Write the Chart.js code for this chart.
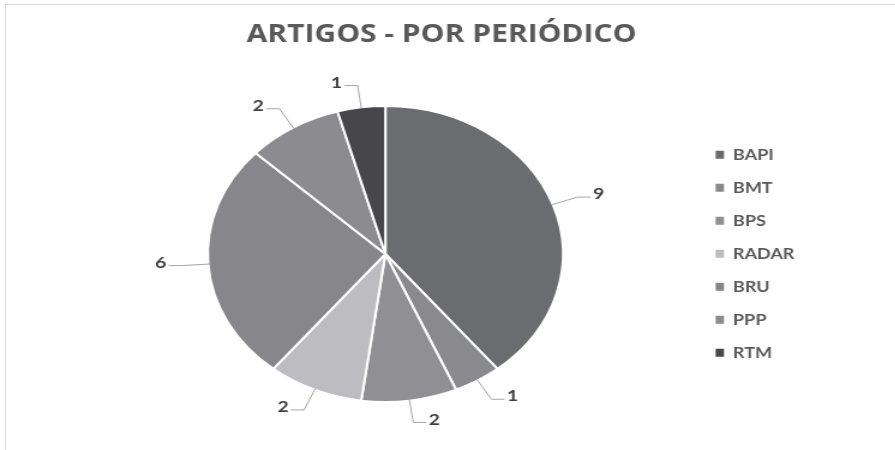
<!DOCTYPE html>
<html>
<head>
<meta charset="utf-8">
<script src="https://cdn.jsdelivr.net/npm/chart.js@4.4.1/dist/chart.umd.min.js"></script>
<style>
  html, body { margin: 0; padding: 0; background: #fff; }
  body { width: 895px; height: 450px; overflow: hidden; position: relative; }
  .frame { position: absolute; left: 5px; top: 4px; right: -2px; bottom: -2px;
           border-top: 1px solid #d9d9d9; border-left: 1px solid #d9d9d9; }
  /* the chart is drawn narrow and stretched sideways, so the pie comes out oval */
  .stretch { position: absolute; left: 0; top: 0; width: 746px; height: 450px;
             transform: scaleX(1.2); transform-origin: 0 0; }
</style>
</head>
<body>
<div class="frame"></div>
<div class="stretch"><canvas id="pieChart" width="746" height="450"></canvas></div>
<script>
// Articles per journal
const periodicos = ['BAPI', 'BMT', 'BPS', 'RADAR', 'BRU', 'PPP', 'RTM'];
const artigos = [9, 1, 2, 2, 6, 2, 1];
const cores = ['#6b6c70', '#8a8a8e', '#909094', '#bdbdc1', '#87878b', '#8c8c90', '#47474b'];

// value labels outside the pie, joined to each slice by a bent leader line
const rotulosExternos = {
    id: 'rotulosExternos',
    afterDatasetsDraw(chart) {
        const ctx = chart.ctx;
        const meta = chart.getDatasetMeta(0);
        ctx.save();
        ctx.font = 'bold 16px Lato';
        ctx.textBaseline = 'middle';
        ctx.strokeStyle = '#a6a6a6';
        ctx.lineWidth = 1;
        meta.data.forEach((arc, i) => {
            const { x, y, startAngle, endAngle, outerRadius } =
                arc.getProps(['x', 'y', 'startAngle', 'endAngle', 'outerRadius'], true);
            const a = (startAngle + endAngle) / 2;
            const cos = Math.cos(a), sin = Math.sin(a);
            const x0 = x + cos * (outerRadius - 1), y0 = y + sin * (outerRadius - 1);
            const x1 = x + cos * (outerRadius + 22), y1 = y + sin * (outerRadius + 22);
            const dir = cos >= 0 ? 1 : -1;
            const x2 = x1 + dir * 11;
            ctx.beginPath();
            ctx.moveTo(x0, y0);
            ctx.lineTo(x1, y1);
            ctx.lineTo(x2, y1);
            ctx.stroke();
            ctx.fillStyle = '#404040';
            ctx.textAlign = dir > 0 ? 'left' : 'right';
            ctx.fillText(String(artigos[i]), x2 + dir * 2, y1 - 3);
        });
        ctx.restore();
    }
};

const baseLabels = Chart.overrides.doughnut.plugins.legend.labels.generateLabels;

new Chart(document.getElementById('pieChart'), {
    type: 'pie',
    data: {
        labels: periodicos,
        datasets: [{
            data: artigos,
            backgroundColor: cores,
            borderColor: '#ffffff',
            borderWidth: 2,
            hoverOffset: 0
        }]
    },
    options: {
        responsive: false,
        animation: false,
        layout: { padding: { left: 64, right: 74, top: 0, bottom: 47 } },
        plugins: {
            title: {
                display: true,
                text: 'ARTIGOS - POR PERIÓDICO',
                color: '#595959',
                font: { family: 'Open Sans', size: 25, weight: 'bold' },
                padding: { top: 20, bottom: 55 }
            },
            legend: {
                position: 'right',
                // empty legend title only pushes the entries down beside the pie
                title: { display: true, text: '', padding: { top: 0, bottom: 90 } },
                labels: {
                    color: '#595959',
                    font: { family: 'Lato', size: 15, weight: 'bold' },
                    boxWidth: 7,
                    boxHeight: 8,
                    padding: 18,
                    generateLabels(chart) {
                        return baseLabels(chart).map(l => ({ ...l, lineWidth: 0, strokeStyle: l.fillStyle }));
                    }
                }
            },
            tooltip: { enabled: false }
        }
    },
    plugins: [rotulosExternos]
});
</script>
</body>
</html>
